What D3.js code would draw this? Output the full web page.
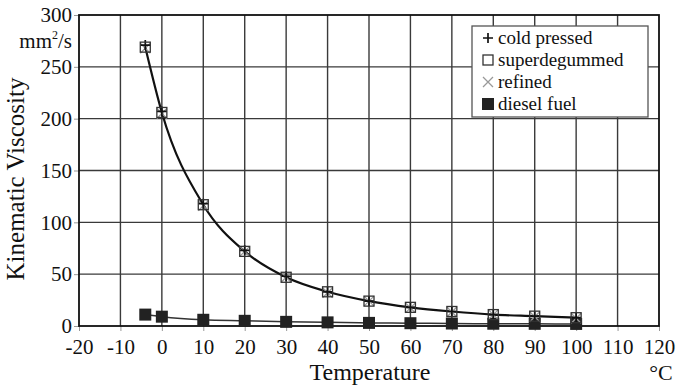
<!DOCTYPE html>
<html>
<head>
<meta charset="utf-8">
<script src="https://cdn.jsdelivr.net/npm/d3@7"></script>
<style>
  body { margin: 0; background: #fff; }
</style>
</head>
<body>
<div id="chart"></div>
<script>
// temperatures (°C)
const temps = [-4, 0, 10, 20, 30, 40, 50, 60, 70, 80, 90, 100];
// kinematic viscosity, mm2/s
const coldPressed   = [271, 207, 118, 73, 48, 33, 24, 18, 14, 11, 9.5, 8];
const superdegummed = [269, 206, 117, 72, 47, 33, 24, 18, 14, 11, 9.5, 8];
const refined       = [268, 205, 116, 72, 47, 32, 24, 17.5, 13.5, 11, 9, 7.5];
const dieselFuel    = [11, 9, 6, 5, 4, 3.5, 3, 2.7, 2.4, 2.2, 2.1, 2];

const xTicks = d3.range(-20, 121, 10);
const yTicks = d3.range(0, 301, 50);
const legendLabels = ["cold pressed", "superdegummed", "refined", "diesel fuel"];

const FONT = "Liberation Serif";
const W = 678, H = 386;
const margin = { top: 15, right: 19, bottom: 60, left: 79 };
const width = W - margin.left - margin.right;
const height = H - margin.top - margin.bottom;

const svg = d3.select("#chart").append("svg")
    .attr("width", W)
    .attr("height", H);

const g = svg.append("g")
    .attr("transform", `translate(${margin.left},${margin.top})`);

const x = d3.scaleLinear().domain([-20, 120]).range([0, width]);
const y = d3.scaleLinear().domain([0, 300]).range([height, 0]);

// grid
g.selectAll(".vgrid")
    .data(xTicks.slice(1, -1))
    .enter().append("line")
    .attr("x1", d => x(d)).attr("x2", d => x(d))
    .attr("y1", 0).attr("y2", height)
    .attr("stroke", "#3a3a3a").attr("stroke-width", 1.4);

g.selectAll(".hgrid")
    .data(yTicks.slice(1, -1))
    .enter().append("line")
    .attr("x1", 0).attr("x2", width)
    .attr("y1", d => y(d)).attr("y2", d => y(d))
    .attr("stroke", "#3a3a3a").attr("stroke-width", 1.4);

// axes
g.append("g")
    .attr("transform", `translate(0,${height})`)
    .call(d3.axisBottom(x).tickValues(xTicks).tickFormat(d => String(d)).tickSize(5).tickPadding(8))
    .attr("font-family", FONT).attr("font-size", 21)
    .call(a => a.select(".domain").remove())
    .call(a => a.selectAll("line").attr("stroke", "#999"))
    .call(a => a.selectAll("text").attr("fill", "#111"));

g.append("g")
    .call(d3.axisLeft(y).tickValues(yTicks).tickSize(5).tickPadding(2))
    .attr("font-family", FONT).attr("font-size", 21)
    .call(a => a.select(".domain").remove())
    .call(a => a.selectAll("line").attr("stroke", "#999"))
    .call(a => a.selectAll("text").attr("fill", "#111"));

// border
g.append("rect")
    .attr("width", width).attr("height", height)
    .attr("fill", "none").attr("stroke", "#111").attr("stroke-width", 1.8);

const series = [coldPressed, superdegummed, refined, dieselFuel];

const line = d3.line()
    .x((d, i) => x(temps[i]))
    .y(d => y(d))
    .curve(d3.curveMonotoneX);

g.append("path").datum(dieselFuel)
    .attr("fill", "none").attr("stroke", "#333").attr("stroke-width", 1.5)
    .attr("d", line);

g.append("path").datum(superdegummed)
    .attr("fill", "none").attr("stroke", "#111").attr("stroke-width", 2.2)
    .attr("d", line);

// markers
function marker(sel, kind, cx, cy) {
    const s = 5;
    if (kind === 0) {
        sel.append("path")
            .attr("d", `M${cx - s},${cy}H${cx + s}M${cx},${cy - s}V${cy + s}`)
            .attr("stroke", "#111").attr("stroke-width", 1.7).attr("fill", "none");
    } else if (kind === 1) {
        sel.append("rect")
            .attr("x", cx - 5).attr("y", cy - 5).attr("width", 10).attr("height", 10)
            .attr("fill", "none").attr("stroke", "#333").attr("stroke-width", 1.3);
    } else if (kind === 2) {
        sel.append("path")
            .attr("d", `M${cx - 5},${cy - 5}L${cx + 5},${cy + 5}M${cx - 5},${cy + 5}L${cx + 5},${cy - 5}`)
            .attr("stroke", "#999").attr("stroke-width", 1.3).attr("fill", "none");
    } else {
        sel.append("rect")
            .attr("x", cx - 6).attr("y", cy - 6).attr("width", 12).attr("height", 12)
            .attr("fill", "#222");
    }
}

const marks = g.append("g");
[3, 2, 0, 1].forEach(k => {
    series[k].forEach((v, i) => marker(marks, k, x(temps[i]), y(v)));
});

// legend
const lg = svg.append("g").attr("transform", "translate(472,26)");
lg.append("rect")
    .attr("width", 176).attr("height", 91)
    .attr("fill", "#fff").attr("stroke", "#555").attr("stroke-width", 1.3);
legendLabels.forEach((name, i) => {
    const cy = 12 + i * 22;
    marker(lg, i, 16, cy);
    lg.append("text")
        .attr("x", 26).attr("y", cy + 6)
        .style("font-family", FONT)
        .style("font-size", "19px")
        .attr("fill", "#111")
        .text(name);
});

// axis titles
svg.append("text")
    .attr("transform", `translate(24,179) rotate(-90)`)
    .attr("text-anchor", "middle")
    .style("font-family", FONT)
    .style("font-size", "25px")
    .attr("fill", "#111")
    .text("Kinematic Viscosity");

const unit = svg.append("text")
    .attr("x", 72).attr("y", 48)
    .attr("text-anchor", "end")
    .style("font-family", FONT)
    .style("font-size", "21px")
    .attr("fill", "#111");
unit.append("tspan").text("mm");
unit.append("tspan").attr("dy", -9).style("font-size", "12px").text("2");
unit.append("tspan").attr("dy", 9).text("/s");

svg.append("text")
    .attr("x", 370).attr("y", 380)
    .attr("text-anchor", "middle")
    .style("font-family", FONT)
    .style("font-size", "24px")
    .attr("fill", "#111")
    .text("Temperature");

svg.append("text")
    .attr("x", 661).attr("y", 380)
    .attr("text-anchor", "middle")
    .style("font-family", FONT)
    .style("font-size", "22px")
    .attr("fill", "#111")
    .text("°C");
</script>
</body>
</html>
